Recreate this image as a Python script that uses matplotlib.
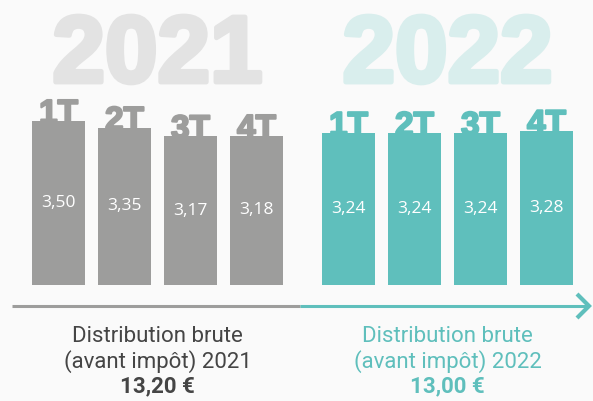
import matplotlib
matplotlib.use("Agg")
import matplotlib.pyplot as plt
import matplotlib.patheffects as pe
from matplotlib import font_manager as fm

names = {f.name for f in fm.fontManager.ttflist}
narrow = "Liberation Sans Narrow" if "Liberation Sans Narrow" in names else "Roboto"

years = ["2021", "2022"]
quarters = ["1T", "2T", "3T", "4T"]
values_2021 = [3.50, 3.35, 3.17, 3.18]
values_2022 = [3.24, 3.24, 3.24, 3.28]
value_labels_2021 = ["3,50", "3,35", "3,17", "3,18"]
value_labels_2022 = ["3,24", "3,24", "3,24", "3,28"]
totals = ["13,20 €", "13,00 €"]

GREY = "#9d9d9c"
TEAL = "#5fbfbc"
GREY_LIGHT = "#e3e3e3"
TEAL_LIGHT = "#d9eeed"
DARK = "#454545"
BG = "#fafafa"

W, H, DPI = 593, 401, 100
fig = plt.figure(figsize=(W / DPI, H / DPI), dpi=DPI, facecolor=BG)
ax = fig.add_axes([0, 0, 1, 1])
ax.set_facecolor(BG)
px_unit_y = 46.9
base_px = 285
ax.set_ylim(-(H - base_px) / px_unit_y, base_px / px_unit_y)
px_unit_x = 66
x0_px = 58.5
ax.set_xlim(-x0_px / px_unit_x, (W - x0_px) / px_unit_x)
ax.axis("off")

group_offset = (348.5 - 58.5) / px_unit_x
bar_w = 53 / px_unit_x

groups = [
    (0.0, values_2021, value_labels_2021, GREY, GREY_LIGHT, DARK),
    (group_offset, values_2022, value_labels_2022, TEAL, TEAL_LIGHT, TEAL),
]

def py(p):
    return (base_px - p) / px_unit_y

for gi, (off, vals, vlabels, col, light, txtcol) in enumerate(groups):
    xs = [off + i for i in range(len(vals))]
    ax.bar(xs, vals, width=bar_w, color=col, zorder=2)
    center = off + 1.5
    ax.text(center, py(82), years[gi], ha="center", va="baseline",
            fontsize=68, fontweight="bold", family="Liberation Sans",
            color=light, zorder=1,
            path_effects=[pe.withStroke(linewidth=3.5, foreground=light)])
    for x, v, q, lab in zip(xs, vals, quarters, vlabels):
        ax.annotate(q, (x, v), xytext=(0, -1.5), textcoords="offset points",
                    ha="center", va="baseline", fontsize=24, fontweight="bold",
                    family="Liberation Sans", color=col, zorder=3,
                    path_effects=[pe.withStroke(linewidth=1.5, foreground=col)])
        ax.text(x, v / 2, lab, ha="center", va="center", fontsize=12.5,
                family="Open Sans", color="white", zorder=4)
    ax.text(center, py(337), "Distribution brute", ha="center", va="center",
            fontsize=16, family=narrow, color=txtcol)
    ax.text(center, py(361.5), "(avant impôt) " + years[gi], ha="center",
            va="center", fontsize=16, family=narrow, color=txtcol)
    ax.text(center, py(386), totals[gi], ha="center", va="center",
            fontsize=16, fontweight="bold", family=narrow, color=txtcol)

# timeline arrow
yl = py(306)
xa = (12 - x0_px) / px_unit_x
xm = (300 - x0_px) / px_unit_x
xe = (589 - x0_px) / px_unit_x
ax.plot([xa, xm], [yl, yl], color=GREY, lw=2.2, solid_capstyle="butt")
ax.plot([xm, xe], [yl, yl], color=TEAL, lw=2.2, solid_capstyle="butt")
xh = (577 - x0_px) / px_unit_x
ax.plot([xh, xe, xh], [py(294), yl, py(318)], color=TEAL, lw=3.0,
        solid_capstyle="butt", solid_joinstyle="miter")

fig.savefig("out.png", dpi=DPI, facecolor=BG)
